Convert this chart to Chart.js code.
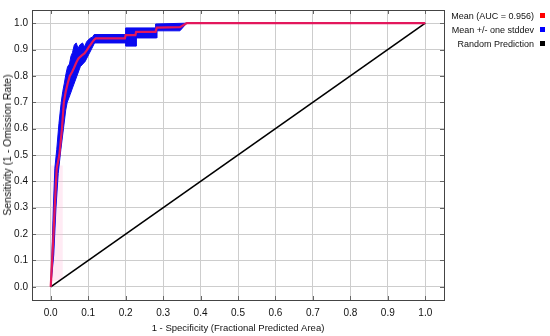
<!DOCTYPE html>
<html>
<head>
<meta charset="utf-8">
<script src="https://cdn.jsdelivr.net/npm/chart.js@4"></script>
<style>
  body { margin: 0; background: #fff; }
  #wrap { position: relative; width: 550px; height: 336px; }
  #legend { position: absolute; top: 9px; right: 5px; font: 9px "Liberation Sans", Arial, sans-serif; color: #111; }
  #legend div { height: 14px; line-height: 14px; text-align: right; white-space: nowrap; }
  #legend span.box { display: inline-block; width: 5px; height: 5px; margin-left: 6px; vertical-align: 1px; }
  #ytitle { position: absolute; left: 7px; top: 145px; transform: translate(-50%, -50%) rotate(-90deg); white-space: nowrap; font: 10.5px "Liberation Sans", Arial, sans-serif; color: #111; line-height: 12px; }
</style>
</head>
<body>
<div id="wrap">
  <canvas id="roc" width="550" height="336"></canvas>
  <div id="ytitle">Sensitivity (1 - Omission Rate)</div>
  <div id="legend"></div>
</div>
<script>
// Axis ticks
const xTicks = [0, 0.1, 0.2, 0.3, 0.4, 0.5, 0.6, 0.7, 0.8, 0.9, 1.0];
const yTicks = [0, 0.1, 0.2, 0.3, 0.4, 0.5, 0.6, 0.7, 0.8, 0.9, 1.0];

// Mean ROC curve
const meanX = [0, 0.006, 0.012, 0.016, 0.023, 0.030, 0.035, 0.040, 0.045, 0.051, 0.057, 0.062, 0.068, 0.074, 0.083, 0.090, 0.096, 0.102, 0.107, 0.112, 0.116, 0.120, 0.198, 0.200, 0.226, 0.228, 0.280, 0.283, 0.345, 0.363, 1.0];
const meanY = [0, 0.16, 0.34, 0.45, 0.50, 0.60, 0.70, 0.74, 0.77, 0.80, 0.815, 0.83, 0.85, 0.866, 0.878, 0.885, 0.897, 0.91, 0.92, 0.93, 0.937, 0.942, 0.942, 0.955, 0.955, 0.967, 0.967, 0.983, 0.985, 1.0, 1.0];

// Mean + one stddev (upper edge of band)
const upperX = [0, 0.003, 0.007, 0.011, 0.016, 0.022, 0.028, 0.032, 0.036, 0.041, 0.045, 0.050, 0.054, 0.058, 0.063, 0.068, 0.073, 0.078, 0.085, 0.090, 0.096, 0.104, 0.112, 0.116, 0.200, 0.200, 0.280, 0.280, 0.363];
const upperY = [0, 0.11, 0.30, 0.45, 0.52, 0.62, 0.70, 0.74, 0.77, 0.81, 0.835, 0.845, 0.875, 0.888, 0.918, 0.925, 0.905, 0.918, 0.925, 0.91, 0.93, 0.942, 0.948, 0.957, 0.957, 0.982, 0.982, 0.997, 1.0];

// Mean - one stddev (lower edge of band)
const lowerX = [0, 0.008, 0.014, 0.020, 0.027, 0.034, 0.040, 0.044, 0.052, 0.058, 0.070, 0.079, 0.092, 0.101, 0.110, 0.117, 0.200, 0.200, 0.228, 0.228, 0.283, 0.283, 0.345, 0.363];
const lowerY = [0, 0.12, 0.30, 0.43, 0.52, 0.60, 0.67, 0.70, 0.73, 0.754, 0.80, 0.835, 0.855, 0.88, 0.905, 0.925, 0.925, 0.913, 0.913, 0.944, 0.944, 0.971, 0.971, 1.0];

// Random prediction
const randX = [0, 1];
const randY = [0, 1];

// faint pink patch near the origin
const pinkX = [0, 0, 0.032, 0.032];
const pinkY = [0.02, 0.46, 0.46, 0.03];

const legendItems = [
  { label: 'Mean (AUC = 0.956)', color: '#ff0000' },
  { label: 'Mean +/- one stddev', color: '#0000ff' },
  { label: 'Random Prediction', color: '#000000' }
];

const pts = (xs, ys) => xs.map((x, i) => ({ x: x, y: ys[i] }));

const bandPoints = pts(upperX, upperY).concat(pts(lowerX, lowerY).reverse().slice(1));

const FONT = '"Liberation Sans", Arial, sans-serif';

// frame and inside tick marks
const framePlugin = {
  id: 'frame',
  afterDraw(chart) {
    const { ctx, chartArea: a, scales } = chart;
    ctx.save();
    ctx.strokeStyle = '#666';
    ctx.lineWidth = 1;
    ctx.beginPath();
    xTicks.forEach(v => {
      const px = Math.round(scales.x.getPixelForValue(v)) + 0.5;
      ctx.moveTo(px, a.bottom); ctx.lineTo(px, a.bottom - 4);
      ctx.moveTo(px, a.top); ctx.lineTo(px, a.top + 4);
    });
    yTicks.forEach(v => {
      const py = Math.round(scales.y.getPixelForValue(v)) + 0.5;
      ctx.moveTo(a.left, py); ctx.lineTo(a.left + 4, py);
      ctx.moveTo(a.right, py); ctx.lineTo(a.right - 4, py);
    });
    ctx.stroke();
    ctx.strokeStyle = '#444';
    ctx.strokeRect(Math.round(a.left) + 0.5, Math.round(a.top) + 0.5, Math.round(a.right - a.left), Math.round(a.bottom - a.top));
    ctx.restore();
  }
};

function buildChart() {
  const ctx = document.getElementById('roc').getContext('2d');
  new Chart(ctx, {
    type: 'scatter',
    data: {
      datasets: [
        {
          label: 'Mean',
          data: pts(meanX, meanY),
          showLine: true,
          borderColor: '#e3175c',
          borderWidth: 2.2,
          pointRadius: 0,
          fill: false
        },
        {
          label: 'Random',
          data: pts(randX, randY),
          showLine: true,
          borderColor: '#000',
          borderWidth: 1.6,
          pointRadius: 0,
          fill: false
        },
        {
          label: 'Band',
          data: bandPoints,
          showLine: true,
          borderColor: '#0a0af0',
          backgroundColor: '#0a0af0',
          borderWidth: 1,
          pointRadius: 0,
          fill: 'shape'
        },
        {
          label: 'Pink',
          data: pts(pinkX, pinkY),
          showLine: true,
          borderWidth: 0,
          borderColor: 'rgba(0,0,0,0)',
          backgroundColor: 'rgba(255,190,220,0.3)',
          pointRadius: 0,
          fill: 'shape'
        }
      ]
    },
    options: {
      responsive: false,
      animation: false,
      devicePixelRatio: 1,
      layout: { padding: { top: 5, right: 106, left: 0, bottom: 0 } },
      plugins: {
        legend: { display: false },
        tooltip: { enabled: false }
      },
      scales: {
        x: {
          type: 'linear',
          min: -0.05,
          max: 1.05,
          afterFit: s => { s.height = 36; },
          afterBuildTicks: s => { s.ticks = xTicks.map(v => ({ value: v })); },
          grid: { color: '#cdcdcd', drawTicks: false },
          border: { display: false },
          ticks: { padding: 7, color: '#111', font: { family: FONT, size: 10 }, callback: v => v.toFixed(1), maxRotation: 0 },
          title: { display: true, text: '1 - Specificity (Fractional Predicted Area)', color: '#111', font: { family: FONT, size: 9.5 }, padding: { top: 0, bottom: 2 } }
        },
        y: {
          type: 'linear',
          min: -0.05,
          max: 1.05,
          afterFit: s => { s.width = 32; },
          afterBuildTicks: s => { s.ticks = yTicks.map(v => ({ value: v })); },
          grid: { color: '#cdcdcd', drawTicks: false },
          border: { display: false },
          ticks: { padding: 4, color: '#111', font: { family: FONT, size: 10 }, callback: v => v.toFixed(1) },
          title: { display: false }
        }
      }
    },
    plugins: [framePlugin]
  });
}

function buildLegend() {
  const box = document.getElementById('legend');
  legendItems.forEach(item => {
    const row = document.createElement('div');
    row.innerHTML = `${item.label}<span class="box" style="background:${item.color}"></span>`;
    box.appendChild(row);
  });
}

buildChart();
buildLegend();
</script>
</body>
</html>
